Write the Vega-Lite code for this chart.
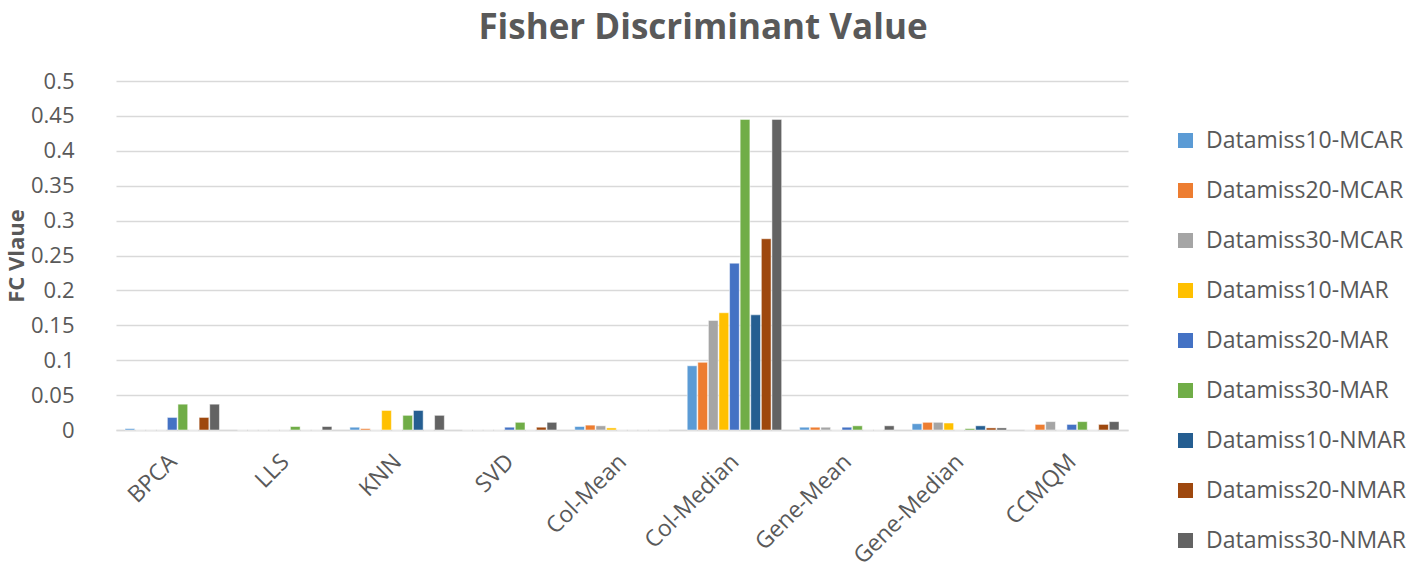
{
  "$schema": "https://vega.github.io/schema/vega-lite/v6.json",
  "width": 1012,
  "height": 349,
  "autosize": {"type": "none"},
  "padding": {"left": 116, "top": 81, "right": 289, "bottom": 145},
  "background": "white",
  "config": {
    "font": "Open Sans",
    "view": {"stroke": null},
    "axis": {"labelColor": "#595959", "titleColor": "#595959", "labelFont": "Open Sans", "titleFont": "Open Sans"}
  },
  "title": {
    "text": "Fisher Discriminant Value",
    "fontSize": 35,
    "fontWeight": "bold",
    "color": "#595959",
    "font": "Open Sans",
    "anchor": "middle",
    "dx": 81,
    "offset": 24
  },
  "data": {
    "values": [
      {"m": "BPCA", "s": "Datamiss10-MCAR", "v": 0.002},
      {"m": "BPCA", "s": "Datamiss20-MCAR", "v": 0},
      {"m": "BPCA", "s": "Datamiss30-MCAR", "v": 0},
      {"m": "BPCA", "s": "Datamiss10-MAR", "v": 0},
      {"m": "BPCA", "s": "Datamiss20-MAR", "v": 0.018},
      {"m": "BPCA", "s": "Datamiss30-MAR", "v": 0.037},
      {"m": "BPCA", "s": "Datamiss10-NMAR", "v": 0},
      {"m": "BPCA", "s": "Datamiss20-NMAR", "v": 0.018},
      {"m": "BPCA", "s": "Datamiss30-NMAR", "v": 0.037},
      {"m": "LLS", "s": "Datamiss10-MCAR", "v": 0},
      {"m": "LLS", "s": "Datamiss20-MCAR", "v": 0},
      {"m": "LLS", "s": "Datamiss30-MCAR", "v": 0},
      {"m": "LLS", "s": "Datamiss10-MAR", "v": 0},
      {"m": "LLS", "s": "Datamiss20-MAR", "v": 0},
      {"m": "LLS", "s": "Datamiss30-MAR", "v": 0.005},
      {"m": "LLS", "s": "Datamiss10-NMAR", "v": 0},
      {"m": "LLS", "s": "Datamiss20-NMAR", "v": 0},
      {"m": "LLS", "s": "Datamiss30-NMAR", "v": 0.005},
      {"m": "KNN", "s": "Datamiss10-MCAR", "v": 0.004},
      {"m": "KNN", "s": "Datamiss20-MCAR", "v": 0.002},
      {"m": "KNN", "s": "Datamiss30-MCAR", "v": 0},
      {"m": "KNN", "s": "Datamiss10-MAR", "v": 0.028},
      {"m": "KNN", "s": "Datamiss20-MAR", "v": 0},
      {"m": "KNN", "s": "Datamiss30-MAR", "v": 0.021},
      {"m": "KNN", "s": "Datamiss10-NMAR", "v": 0.028},
      {"m": "KNN", "s": "Datamiss20-NMAR", "v": 0},
      {"m": "KNN", "s": "Datamiss30-NMAR", "v": 0.021},
      {"m": "SVD", "s": "Datamiss10-MCAR", "v": 0},
      {"m": "SVD", "s": "Datamiss20-MCAR", "v": 0},
      {"m": "SVD", "s": "Datamiss30-MCAR", "v": 0},
      {"m": "SVD", "s": "Datamiss10-MAR", "v": 0},
      {"m": "SVD", "s": "Datamiss20-MAR", "v": 0.004},
      {"m": "SVD", "s": "Datamiss30-MAR", "v": 0.011},
      {"m": "SVD", "s": "Datamiss10-NMAR", "v": 0},
      {"m": "SVD", "s": "Datamiss20-NMAR", "v": 0.004},
      {"m": "SVD", "s": "Datamiss30-NMAR", "v": 0.011},
      {"m": "Col-Mean", "s": "Datamiss10-MCAR", "v": 0.005},
      {"m": "Col-Mean", "s": "Datamiss20-MCAR", "v": 0.007},
      {"m": "Col-Mean", "s": "Datamiss30-MCAR", "v": 0.006},
      {"m": "Col-Mean", "s": "Datamiss10-MAR", "v": 0.003},
      {"m": "Col-Mean", "s": "Datamiss20-MAR", "v": 0},
      {"m": "Col-Mean", "s": "Datamiss30-MAR", "v": 0},
      {"m": "Col-Mean", "s": "Datamiss10-NMAR", "v": 0},
      {"m": "Col-Mean", "s": "Datamiss20-NMAR", "v": 0},
      {"m": "Col-Mean", "s": "Datamiss30-NMAR", "v": 0},
      {"m": "Col-Median", "s": "Datamiss10-MCAR", "v": 0.092},
      {"m": "Col-Median", "s": "Datamiss20-MCAR", "v": 0.097},
      {"m": "Col-Median", "s": "Datamiss30-MCAR", "v": 0.157},
      {"m": "Col-Median", "s": "Datamiss10-MAR", "v": 0.168},
      {"m": "Col-Median", "s": "Datamiss20-MAR", "v": 0.239},
      {"m": "Col-Median", "s": "Datamiss30-MAR", "v": 0.445},
      {"m": "Col-Median", "s": "Datamiss10-NMAR", "v": 0.165},
      {"m": "Col-Median", "s": "Datamiss20-NMAR", "v": 0.274},
      {"m": "Col-Median", "s": "Datamiss30-NMAR", "v": 0.445},
      {"m": "Gene-Mean", "s": "Datamiss10-MCAR", "v": 0.004},
      {"m": "Gene-Mean", "s": "Datamiss20-MCAR", "v": 0.004},
      {"m": "Gene-Mean", "s": "Datamiss30-MCAR", "v": 0.004},
      {"m": "Gene-Mean", "s": "Datamiss10-MAR", "v": 0},
      {"m": "Gene-Mean", "s": "Datamiss20-MAR", "v": 0.004},
      {"m": "Gene-Mean", "s": "Datamiss30-MAR", "v": 0.006},
      {"m": "Gene-Mean", "s": "Datamiss10-NMAR", "v": 0},
      {"m": "Gene-Mean", "s": "Datamiss20-NMAR", "v": 0},
      {"m": "Gene-Mean", "s": "Datamiss30-NMAR", "v": 0.006},
      {"m": "Gene-Median", "s": "Datamiss10-MCAR", "v": 0.009},
      {"m": "Gene-Median", "s": "Datamiss20-MCAR", "v": 0.011},
      {"m": "Gene-Median", "s": "Datamiss30-MCAR", "v": 0.011},
      {"m": "Gene-Median", "s": "Datamiss10-MAR", "v": 0.01},
      {"m": "Gene-Median", "s": "Datamiss20-MAR", "v": 0},
      {"m": "Gene-Median", "s": "Datamiss30-MAR", "v": 0.002},
      {"m": "Gene-Median", "s": "Datamiss10-NMAR", "v": 0.006},
      {"m": "Gene-Median", "s": "Datamiss20-NMAR", "v": 0.003},
      {"m": "Gene-Median", "s": "Datamiss30-NMAR", "v": 0.003},
      {"m": "CCMQM", "s": "Datamiss10-MCAR", "v": 0},
      {"m": "CCMQM", "s": "Datamiss20-MCAR", "v": 0.008},
      {"m": "CCMQM", "s": "Datamiss30-MCAR", "v": 0.012},
      {"m": "CCMQM", "s": "Datamiss10-MAR", "v": 0},
      {"m": "CCMQM", "s": "Datamiss20-MAR", "v": 0.008},
      {"m": "CCMQM", "s": "Datamiss30-MAR", "v": 0.012},
      {"m": "CCMQM", "s": "Datamiss10-NMAR", "v": 0},
      {"m": "CCMQM", "s": "Datamiss20-NMAR", "v": 0.008},
      {"m": "CCMQM", "s": "Datamiss30-NMAR", "v": 0.012}
    ]
  },
  "mark": {"type": "bar", "stroke": "white", "strokeWidth": 0.5},
  "encoding": {
    "x": {
      "field": "m",
      "type": "nominal",
      "sort": null,
      "scale": {"paddingInner": 0.16, "paddingOuter": 0.08},
      "axis": {
        "title": null,
        "labelAngle": -45,
        "labelFontSize": 23,
        "labelPadding": 20,
        "labelOffset": -7,
        "ticks": false,
        "domain": true,
        "domainColor": "#D9D9D9",
        "domainWidth": 1.5,
        "grid": false
      }
    },
    "xOffset": {
      "field": "s",
      "type": "nominal",
      "sort": null,
      "scale": {"paddingInner": 0.08}
    },
    "y": {
      "field": "v",
      "type": "quantitative",
      "scale": {"domain": [0, 0.5], "nice": false},
      "axis": {
        "title": "FC Vlaue",
        "titleFontSize": 22,
        "titleFontWeight": "bold",
        "titlePadding": 2,
        "values": [0, 0.05, 0.1, 0.15, 0.2, 0.25, 0.3, 0.35, 0.4, 0.45, 0.5],
        "labelExpr": "datum.value == 0 ? '0' : format(datum.value, '.2~f')",
        "labelFontSize": 22,
        "labelPadding": 42,
        "ticks": false,
        "domain": false,
        "gridColor": "#D9D9D9",
        "gridWidth": 1.5
      }
    },
    "color": {
      "field": "s",
      "type": "nominal",
      "sort": null,
      "scale": {
        "domain": ["Datamiss10-MCAR", "Datamiss20-MCAR", "Datamiss30-MCAR", "Datamiss10-MAR", "Datamiss20-MAR", "Datamiss30-MAR", "Datamiss10-NMAR", "Datamiss20-NMAR", "Datamiss30-NMAR"],
        "range": ["#5B9BD5", "#ED7D31", "#A5A5A5", "#FFC000", "#4472C4", "#70AD47", "#255E91", "#9E480E", "#636363"]
      },
      "legend": {
        "title": null,
        "orient": "none",
        "legendX": 1058,
        "legendY": 48,
        "symbolType": "square",
        "symbolSize": 225,
        "symbolStrokeWidth": 0,
        "labelFontSize": 23,
        "labelColor": "#595959",
        "labelFont": "Open Sans",
        "labelOffset": 9,
        "rowPadding": 26,
        "labelLimit": 300
      }
    }
  }
}
